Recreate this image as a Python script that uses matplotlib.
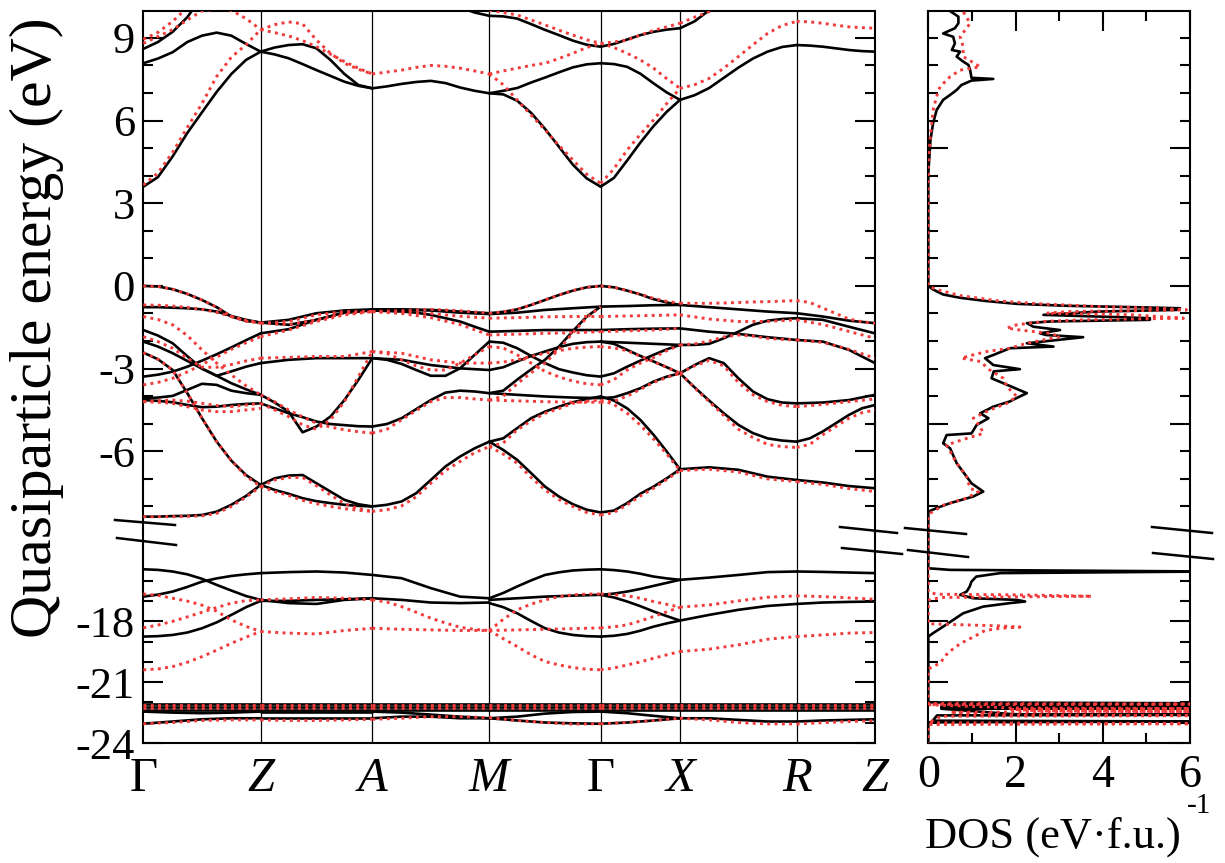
import numpy as np
import matplotlib
matplotlib.use("Agg")
import matplotlib.pyplot as plt
from matplotlib.ticker import FixedLocator
from matplotlib.lines import Line2D

plt.rcParams['font.family'] = ['Liberation Serif', 'DejaVu Serif']
plt.rcParams['axes.unicode_minus'] = False

# ---------------- k-path ----------------
k_labels = ["Γ", "Z", "A", "M", "Γ", "X", "R", "Z"]
k_pos = [0.0, 1.174, 2.290, 3.460, 4.574, 5.367, 6.534, 7.317]

# ---------------- band energies (eV), one list of lines per path segment ----------------
# each line is sampled at equally spaced points along its segment
black_GZ = [
    [3.60, 3.95, 4.70, 5.55, 6.30, 7.04, 7.69, 8.20, 8.50],
    [8.08, 8.25, 8.48, 8.85, 9.08, 9.19, 9.08, 8.78, 8.50],
    [8.60, 8.85, 9.22, 9.75, 10.5, 11.0, 11.0, 11.0, 11.0],
    [0.00, -0.02, -0.12, -0.29, -0.51, -0.77, -1.11, -1.27, -1.33],
    [-0.77, -0.77, -0.79, -0.81, -0.85, -0.93, -1.09, -1.23, -1.33],
    [-1.60, -1.80, -2.08, -2.55, -3.00, -3.26, -3.10, -2.93, -2.80],
    [-2.02, -2.20, -2.44, -2.72, -3.00, -3.26, -3.53, -3.75, -3.95],
    [-2.42, -2.66, -3.05, -3.89, -4.80, -5.65, -6.34, -6.86, -7.22],
    [-3.29, -3.22, -3.11, -2.93, -2.71, -2.48, -2.23, -1.97, -1.72],
    [-4.07, -4.05, -3.99, -3.77, -3.55, -3.59, -3.80, -3.89, -3.95],
    [-4.14, -4.17, -4.22, -4.32, -4.40, -4.38, -4.32, -4.28, -4.26],
    [-8.37, -8.37, -8.35, -8.34, -8.31, -8.19, -7.94, -7.62, -7.22],
    [-15.43, -15.46, -15.54, -15.68, -15.90, -16.20, -16.48, -16.75, -16.94],
    [-16.78, -16.68, -16.53, -16.30, -16.04, -15.88, -15.76, -15.68, -15.62],
    [-18.75, -18.73, -18.67, -18.55, -18.34, -18.05, -17.68, -17.30, -16.99],
    [-22.07, -22.07, -22.07, -22.07, -22.07], [-22.20, -22.20, -22.20, -22.20, -22.20],
    [-22.37, -22.37, -22.37, -22.37, -22.37], [-22.45, -22.50, -22.53, -22.50, -22.45],
    [-23.05, -22.94, -22.83, -22.78, -22.78],
]
black_ZA = [
    [8.50, 8.40, 8.26, 8.05, 7.83, 7.62, 7.41, 7.26, 7.17],
    [8.50, 8.65, 8.74, 8.77, 8.62, 8.20, 7.69, 7.29, 7.17],
    [-1.33, -1.23, -0.99, -0.89, -0.85], [-1.33, -1.41, -1.23, -0.97, -0.87],
    [-1.72, -1.57, -1.23, -0.97, -0.89], [-2.80, -2.68, -2.62, -2.62, -2.62],
    [-3.95, -4.23, -4.56, -5.31, -5.10, -4.74, -4.14, -3.41, -2.62],
    [-4.26, -4.44, -4.62, -4.76, -4.92, -5.01, -5.05, -5.09, -5.10],
    [-7.22, -6.98, -6.88, -6.86, -7.16, -7.46, -7.76, -7.92, -8.00],
    [-7.22, -7.40, -7.54, -7.70, -7.81, -7.88, -7.94, -7.98, -8.00],
    [-15.62, -15.57, -15.54, -15.59, -15.71], [-16.94, -17.10, -17.14, -16.94, -16.86],
    [-16.99, -16.99, -16.94, -16.91, -16.86],
    [-22.07, -22.07, -22.07, -22.07, -22.07], [-22.20, -22.20, -22.20, -22.20, -22.20],
    [-22.37, -22.37, -22.37, -22.37, -22.37], [-22.45, -22.45, -22.45, -22.45, -22.45],
    [-22.78, -22.78, -22.78, -22.78, -22.78],
]
black_AM = [
    [7.17, 7.24, 7.33, 7.40, 7.44, 7.36, 7.20, 7.08, 6.99],
    [11.0, 11.0, 10.9, 10.8, 10.6, 10.35, 10.1, 9.92, 9.80],
    [-0.85, -0.85, -0.87, -0.93, -0.99], [-0.87, -0.87, -0.89, -0.97, -1.02],
    [-0.89, -0.91, -0.93, -0.97, -1.05, -1.17, -1.29, -1.48, -1.66],
    [-2.62, -2.68, -2.87, -2.99, -3.05],
    [-2.62, -2.68, -2.83, -3.05, -3.26, -3.26, -2.99, -2.50, -2.02],
    [-5.10, -5.01, -4.80, -4.47, -4.14, -3.87, -3.80, -3.83, -3.89],
    [-8.00, -7.94, -7.82, -7.52, -7.04, -6.55, -6.19, -5.89, -5.65],
    [-15.71, -15.87, -16.36, -16.78, -16.86], [-16.86, -16.94, -17.07, -17.10, -17.07],
    [-22.07, -22.07, -22.07, -22.07, -22.07], [-22.20, -22.20, -22.20, -22.20, -22.20],
    [-22.37, -22.37, -22.37, -22.37, -22.37], [-22.45, -22.50, -22.60, -22.70, -22.78],
    [-22.78, -22.70, -22.70, -22.78, -22.78],
]
black_MG = [
    [6.99, 6.95, 6.72, 6.28, 5.70, 5.05, 4.40, 3.90, 3.60],
    [6.99, 7.08, 7.18, 7.38, 7.56, 7.75, 7.93, 8.04, 8.08],
    [9.80, 9.78, 9.70, 9.50, 9.29, 9.10, 8.90, 8.75, 8.68],
    [-0.99, -0.94, -0.85, -0.69, -0.51, -0.33, -0.17, -0.05, 0.00],
    [-1.02, -0.97, -0.87, -0.81, -0.75], [-1.66, -1.63, -1.60, -1.60, -1.60],
    [-2.02, -2.06, -2.26, -2.54, -2.80, -3.02, -3.14, -3.24, -3.29],
    [-3.05, -2.95, -2.74, -2.54, -2.38, -2.22, -2.10, -2.04, -2.02],
    [-3.89, -3.80, -3.40, -3.03, -2.68, -2.20, -1.64, -1.11, -0.75],
    [-3.89, -3.95, -4.01, -4.05, -4.07],
    [-5.65, -5.53, -5.16, -4.80, -4.56, -4.38, -4.22, -4.10, -4.01],
    [-5.65, -5.95, -6.31, -6.79, -7.28, -7.64, -7.92, -8.12, -8.22],
    [-16.86, -16.60, -16.28, -15.98, -15.71, -15.58, -15.49, -15.45, -15.43],
    [-16.94, -16.86, -16.78, -16.73, -16.69],
    [-17.10, -17.30, -17.60, -17.98, -18.34, -18.55, -18.67, -18.73, -18.75],
    [-22.07, -22.07, -22.07, -22.07, -22.07], [-22.20, -22.20, -22.20, -22.20, -22.20],
    [-22.37, -22.37, -22.37, -22.37, -22.37], [-22.78, -22.70, -22.55, -22.47, -22.45],
    [-22.78, -22.89, -22.99, -23.03, -23.05],
]
black_GX = [
    [3.60, 3.92, 4.55, 5.20, 5.80, 6.32, 6.75],
    [8.08, 8.05, 7.95, 7.70, 7.35, 7.02, 6.75],
    [8.68, 8.78, 8.94, 9.10, 9.22, 9.30, 9.35],
    [0.00, -0.05, -0.17, -0.31, -0.48, -0.60, -0.69],
    [-0.75, -0.73, -0.70, -0.69], [-1.60, -1.57, -1.55, -1.54], [-2.02, -2.06, -2.10, -2.14],
    [-3.29, -3.17, -2.93, -2.71, -2.50, -2.30, -2.14],
    [-2.02, -2.10, -2.32, -2.54, -2.74, -2.95, -3.17],
    [-4.07, -4.04, -3.89, -3.71, -3.47, -3.29, -3.17],
    [-4.01, -4.16, -4.44, -4.86, -5.40, -6.01, -6.65],
    [-8.22, -8.15, -7.88, -7.54, -7.28, -6.98, -6.65],
    [-15.43, -15.47, -15.54, -15.65, -15.79, -15.88, -15.95],
    [-16.69, -16.63, -16.53, -16.40, -16.25, -16.10, -15.95],
    [-16.69, -16.82, -17.02, -17.25, -17.51, -17.74, -17.96],
    [-18.75, -18.71, -18.62, -18.46, -18.26, -18.10, -17.96],
    [-22.07, -22.07, -22.07, -22.07], [-22.20, -22.20, -22.20, -22.20],
    [-22.37, -22.37, -22.37, -22.37], [-22.45, -22.53, -22.66, -22.78],
    [-23.05, -22.99, -22.89, -22.78],
]
black_XR = [
    [6.75, 6.92, 7.18, 7.55, 7.92, 8.25, 8.50, 8.67, 8.74],
    [9.35, 9.60, 10.0, 10.3, 10.6, 11.0, 11.0, 11.0, 11.0],
    [-0.69, -0.77, -0.85, -0.93, -0.99], [-1.54, -1.66, -1.74, -1.86, -1.96],
    [-2.14, -2.14, -2.10, -1.90, -1.66, -1.41, -1.26, -1.20, -1.17],
    [-3.17, -2.87, -2.62, -2.80, -3.35, -3.83, -4.11, -4.23, -4.26],
    [-3.17, -3.68, -4.16, -4.62, -5.04, -5.34, -5.53, -5.61, -5.65],
    [-6.65, -6.58, -6.67, -6.92, -7.04],
    [-15.95, -15.84, -15.71, -15.57, -15.54], [-17.96, -17.68, -17.43, -17.24, -17.14],
    [-22.07, -22.07, -22.07, -22.07, -22.07], [-22.20, -22.20, -22.20, -22.20, -22.20],
    [-22.37, -22.37, -22.37, -22.37, -22.37], [-22.78, -22.78, -22.86, -22.94, -22.94],
]
black_RZ = [
    [8.74, 8.72, 8.68, 8.62, 8.56, 8.52, 8.50],
    [-0.99, -1.11, -1.26, -1.35], [-1.17, -1.23, -1.48, -1.72], [-1.96, -2.02, -2.32, -2.80],
    [-4.26, -4.23, -4.14, -3.95], [-5.65, -5.53, -5.28, -4.98, -4.68, -4.44, -4.32],
    [-7.04, -7.13, -7.26, -7.34],
    [-15.54, -15.56, -15.59, -15.62], [-17.14, -17.07, -17.04, -17.02],
    [-22.07, -22.07, -22.07, -22.07], [-22.20, -22.20, -22.20, -22.20],
    [-22.37, -22.37, -22.37, -22.37], [-22.94, -22.89, -22.86, -22.83],
]

red_GZ = [
    [3.66, 4.10, 4.85, 5.75, 6.62, 7.60, 8.30, 8.75, 9.30],
    [8.80, 9.05, 9.30, 9.65, 9.98, 10.05, 10.0, 9.70, 9.30],
    [8.95, 9.20, 9.60, 10.1, 10.6, 11.0, 11.0, 11.0, 11.0],
    [0.00, -0.02, -0.12, -0.29, -0.51, -0.77, -1.11, -1.28, -1.35],
    [-0.69, -0.70, -0.73, -0.78, -0.85, -0.96, -1.11, -1.25, -1.35],
    [-1.11, -1.22, -1.41, -1.80, -2.32, -2.80, -3.23, -3.62, -3.95],
    [-1.84, -2.02, -2.26, -2.62, -2.95, -2.95, -2.85, -2.72, -2.62],
    [-2.42, -2.66, -3.05, -3.89, -4.80, -5.65, -6.34, -6.90, -7.28],
    [-3.59, -3.50, -3.35, -3.12, -2.85, -2.58, -2.30, -2.06, -1.84],
    [-4.20, -4.16, -4.14, -4.18, -4.26, -4.34, -4.38, -4.32, -4.26],
    [-4.20, -4.22, -4.26, -4.38, -4.50, -4.56, -4.56, -4.50, -4.44],
    [-8.37, -8.37, -8.37, -8.36, -8.34, -8.25, -8.00, -7.66, -7.28],
    [-16.65, -16.72, -16.86, -17.00, -17.20, -17.50, -17.93, -18.25, -18.50],
    [-18.32, -18.18, -18.00, -17.78, -17.55, -17.32, -17.10, -16.98, -16.94],
    [-20.39, -20.35, -20.23, -20.02, -19.74, -19.42, -19.08, -18.78, -18.50],
    [-22.12, -22.12, -22.12, -22.12, -22.12], [-22.25, -22.25, -22.25, -22.25, -22.25],
    [-23.05, -22.99, -22.89, -22.86, -22.86],
]
red_ZA = [
    [9.30, 9.19, 9.07, 8.90, 8.68, 8.41, 8.14, 7.90, 7.69],
    [9.30, 9.48, 9.58, 9.51, 8.92, 8.44, 8.08, 7.86, 7.69],
    [-1.35, -1.29, -1.05, -0.93, -0.93], [-1.35, -1.41, -1.23, -0.99, -0.93],
    [-1.84, -1.60, -1.29, -1.05, -0.93], [-2.62, -2.59, -2.56, -2.56, -2.38],
    [-4.26, -4.50, -4.74, -5.04, -5.20, -4.86, -4.20, -3.29, -2.38],
    [-3.95, -4.20, -4.50, -4.75, -4.98, -5.12, -5.22, -5.29, -5.34],
    [-7.28, -7.04, -6.95, -6.95, -7.25, -7.58, -7.90, -8.08, -8.18],
    [-7.28, -7.46, -7.60, -7.78, -7.90, -8.00, -8.08, -8.14, -8.18],
    [-16.94, -16.89, -16.82, -16.86, -16.94], [-18.50, -18.58, -18.62, -18.45, -18.34],
    [-22.12, -22.12, -22.12, -22.12, -22.12], [-22.25, -22.25, -22.25, -22.25, -22.25],
    [-22.86, -22.89, -22.89, -22.86, -22.83],
]
red_AM = [
    [7.69, 7.76, 7.83, 7.93, 8.00, 7.97, 7.90, 7.80, 7.69],
    [11.0, 11.0, 10.9, 10.8, 10.6, 10.45, 10.3, 10.15, 10.0],
    [-0.93, -0.90, -0.85, -0.90, -0.99], [-0.93, -0.95, -1.00, -1.10, -1.17],
    [-0.93, -1.00, -1.15, -1.40, -1.78], [-2.38, -2.44, -2.68, -2.80, -2.80],
    [-2.38, -2.45, -2.68, -2.90, -3.05, -3.05, -2.80, -2.50, -2.20],
    [-5.34, -5.20, -4.86, -4.52, -4.20, -4.05, -4.05, -4.10, -4.14],
    [-8.18, -8.12, -7.98, -7.65, -7.16, -6.70, -6.37, -6.05, -5.83],
    [-16.94, -17.05, -17.27, -17.55, -17.84, -18.08, -18.29, -18.40, -18.45],
    [-18.34, -18.39, -18.42, -18.45, -18.45],
    [-22.12, -22.12, -22.12, -22.12, -22.12], [-22.25, -22.25, -22.25, -22.25, -22.25],
    [-22.83, -22.78, -22.70, -22.70, -22.75],
]
red_MG = [
    [7.69, 7.30, 6.75, 6.20, 5.66, 5.10, 4.57, 4.05, 3.72],
    [7.69, 7.80, 7.90, 8.00, 8.08, 8.25, 8.44, 8.65, 8.80],
    [10.0, 9.92, 9.83, 9.65, 9.47, 9.28, 9.10, 8.93, 8.80],
    [-0.99, -0.94, -0.85, -0.69, -0.51, -0.33, -0.17, -0.05, 0.00],
    [-1.17, -1.15, -1.12, -1.11, -1.11], [-1.78, -1.75, -1.72, -1.70, -1.66],
    [-2.20, -2.25, -2.50, -2.80, -3.10, -3.30, -3.45, -3.55, -3.59],
    [-2.80, -2.76, -2.68, -2.56, -2.44, -2.35, -2.26, -2.22, -2.20],
    [-4.14, -4.00, -3.55, -3.15, -2.80, -2.30, -1.70, -1.15, -0.75],
    [-4.14, -4.17, -4.20, -4.22, -4.22],
    [-5.83, -5.70, -5.22, -4.90, -4.62, -4.45, -4.26, -4.18, -4.14],
    [-5.83, -6.10, -6.43, -6.95, -7.40, -7.75, -8.00, -8.22, -8.31],
    [-18.45, -17.90, -17.43, -17.15, -16.94, -16.78, -16.69, -16.65, -16.65],
    [-18.45, -18.42, -18.39, -18.36, -18.32],
    [-18.45, -18.85, -19.24, -19.65, -19.98, -20.15, -20.28, -20.36, -20.39],
    [-22.12, -22.12, -22.12, -22.12, -22.12], [-22.25, -22.25, -22.25, -22.25, -22.25],
    [-22.75, -22.89, -22.99, -23.07, -23.05],
]
red_GX = [
    [3.72, 4.25, 4.93, 5.50, 6.02, 6.62, 7.17],
    [8.80, 8.65, 8.44, 8.20, 7.90, 7.52, 7.17],
    [8.80, 8.85, 8.92, 9.10, 9.27, 9.40, 9.53],
    [0.00, -0.05, -0.17, -0.30, -0.45, -0.56, -0.63],
    [-1.11, -1.09, -1.07, -1.05], [-1.66, -1.63, -1.60, -1.54],
    [-3.59, -3.40, -3.05, -2.80, -2.60, -2.35, -2.14],
    [-2.20, -2.25, -2.35, -2.55, -2.75, -2.95, -3.17],
    [-4.22, -4.18, -4.00, -3.75, -3.50, -3.32, -3.17],
    [-4.14, -4.30, -4.62, -5.05, -5.55, -6.10, -6.70],
    [-8.31, -8.22, -7.94, -7.62, -7.34, -7.02, -6.70],
    [-16.65, -16.68, -16.74, -16.86, -17.02, -17.16, -17.30],
    [-18.32, -18.27, -18.17, -17.98, -17.76, -17.53, -17.30],
    [-20.39, -20.30, -20.15, -20.00, -19.82, -19.65, -19.49],
    [-22.12, -22.12, -22.12, -22.12], [-22.25, -22.25, -22.25, -22.25],
    [-23.05, -22.99, -22.89, -22.78],
]
red_XR = [
    [7.17, 7.30, 7.53, 7.90, 8.32, 8.75, 9.16, 9.45, 9.60],
    [9.53, 9.75, 9.95, 10.2, 10.5, 11.0, 11.0, 11.0, 11.0],
    [-0.63, -0.63, -0.63, -0.62, -0.60, -0.58, -0.57, -0.55, -0.53],
    [-1.05, -1.20, -1.29, -1.29, -1.23],
    [-2.14, -2.10, -2.00, -1.85, -1.78, -1.82, -1.90, -1.94, -1.96],
    [-3.17, -2.90, -2.70, -2.90, -3.50, -3.95, -4.20, -4.33, -4.38],
    [-3.17, -3.70, -4.20, -4.70, -5.20, -5.50, -5.75, -5.83, -5.86],
    [-6.70, -6.65, -6.75, -7.00, -7.10],
    [-17.30, -17.19, -16.99, -16.81, -16.74], [-19.49, -19.37, -19.16, -18.88, -18.75],
    [-22.12, -22.12, -22.12, -22.12, -22.12], [-22.25, -22.25, -22.25, -22.25, -22.25],
    [-22.78, -22.86, -22.99, -23.06, -23.06],
]
red_RZ = [
    [9.60, 9.58, 9.53, 9.46, 9.40, 9.37, 9.35],
    [-0.53, -0.60, -0.80, -1.00, -1.20, -1.30, -1.35],
    [-1.23, -1.40, -1.65, -1.90], [-1.96, -2.05, -2.30, -2.62],
    [-4.38, -4.30, -4.20, -4.10], [-5.86, -5.75, -5.40, -5.10, -4.80, -4.60, -4.50],
    [-7.10, -7.20, -7.35, -7.46],
    [-16.74, -16.78, -16.84, -16.91], [-18.75, -18.67, -18.58, -18.55],
    [-22.12, -22.12, -22.12, -22.12], [-22.25, -22.25, -22.25, -22.25],
    [-23.06, -23.00, -22.94, -22.90],
]

# ---------------- DOS: (energy eV, DOS per eV f.u.) ----------------
dos_black = [
    (10.2, 0.55), (9.97, 0.50), (9.77, 0.69), (9.53, 0.69), (9.35, 0.61), (9.16, 0.34), (9.04, 0.57),
    (8.80, 0.61), (8.56, 0.54), (8.50, 0.73), (8.32, 0.65), (8.14, 0.80), (8.02, 0.92), (7.83, 0.96),
    (7.55, 0.99), (7.51, 1.49), (7.45, 0.99), (7.29, 0.76), (7.11, 0.65), (6.93, 0.50), (6.75, 0.34),
    (6.38, 0.19), (5.90, 0.11), (5.30, 0.05), (4.57, 0.02), (4.09, 0.0), (0.00, 0.0),
    (-0.13, 0.11), (-0.31, 0.34), (-0.43, 0.73), (-0.55, 1.34), (-0.65, 2.03), (-0.72, 3.17),
    (-0.77, 4.70), (-0.81, 5.77), (-0.87, 5.70), (-0.93, 3.90), (-1.05, 2.64), (-1.11, 3.90),
    (-1.17, 5.08), (-1.23, 5.08), (-1.29, 2.79), (-1.35, 2.26), (-1.48, 2.41), (-1.60, 3.02),
    (-1.72, 2.56), (-1.78, 2.70), (-1.86, 3.55), (-2.08, 2.26), (-2.20, 2.87), (-2.26, 1.87),
    (-2.50, 1.50), (-2.62, 1.30), (-2.87, 1.49), (-3.02, 2.10), (-3.10, 1.50), (-3.35, 1.45),
    (-3.53, 1.72), (-3.71, 1.99), (-3.89, 2.26), (-4.01, 2.10), (-4.19, 1.87), (-4.38, 1.49),
    (-4.62, 1.19), (-4.80, 1.38), (-5.04, 1.11), (-5.35, 0.99), (-5.41, 0.42), (-5.71, 0.34),
    (-5.89, 0.50), (-6.43, 0.65), (-6.92, 0.88), (-7.16, 0.99), (-7.46, 1.26), (-7.64, 1.03),
    (-7.88, 0.50), (-8.06, 0.19), (-8.19, 0.0),
    (-15.38, 0.0), (-15.46, 0.50), (-15.54, 6.5), (-15.62, 1.65), (-15.79, 1.10), (-16.04, 0.99),
    (-16.28, 0.95), (-16.53, 0.88), (-16.69, 0.73), (-16.86, 1.03), (-16.94, 2.03), (-17.02, 2.22),
    (-17.10, 1.87), (-17.27, 1.26), (-17.60, 0.80), (-17.93, 0.57), (-18.26, 0.34), (-18.58, 0.11),
    (-18.75, 0.0),
    (-22.00, 0.0), (-22.04, 6.5), (-22.08, 0.3), (-22.13, 0.3), (-22.17, 6.5), (-22.21, 0.3),
    (-22.26, 0.3), (-22.28, 6.5), (-22.31, 0.3), (-22.58, 1.95), (-22.61, 6.5), (-22.64, 0.2),
    (-22.90, 0.1), (-22.94, 6.5), (-22.98, 0.0), (-24.0, 0.0),
]
dos_red = [
    (10.2, 0.78), (9.95, 0.80), (9.53, 0.96), (9.04, 0.73), (8.68, 0.80), (8.32, 0.80), (7.95, 1.19),
    (7.83, 0.73), (7.59, 0.50), (7.23, 0.27), (6.87, 0.19), (6.38, 0.11), (5.90, 0.08), (5.30, 0.04),
    (4.33, 0.0), (0.00, 0.0),
    (-0.13, 0.19), (-0.35, 0.73), (-0.55, 1.64), (-0.65, 2.56), (-0.75, 3.94), (-0.81, 5.31),
    (-0.87, 5.92), (-0.93, 3.20), (-0.99, 2.71), (-1.05, 4.70), (-1.17, 5.85), (-1.23, 3.55),
    (-1.29, 2.64), (-1.41, 2.03), (-1.53, 1.80), (-1.60, 2.10), (-1.72, 2.79), (-1.84, 3.02),
    (-2.08, 2.26), (-2.26, 1.87), (-2.38, 1.34), (-2.50, 1.03), (-2.62, 0.76), (-2.74, 1.19),
    (-3.05, 1.41), (-3.35, 1.72), (-3.65, 1.80), (-4.01, 2.03), (-4.26, 1.80), (-4.50, 1.41),
    (-4.80, 1.03), (-5.10, 1.19), (-5.35, 1.26), (-5.53, 0.88), (-5.77, 0.42), (-6.00, 0.50),
    (-6.43, 0.65), (-6.92, 0.88), (-7.35, 0.96), (-7.46, 1.15), (-7.70, 0.88), (-7.95, 0.35),
    (-8.25, 0.04), (-8.40, 0.0),
    (-16.55, 0.0), (-16.66, 0.19), (-16.69, 2.03), (-16.76, 3.75), (-16.82, 0.3), (-16.95, 0.0),
    (-18.12, 0.0), (-18.18, 0.95), (-18.22, 1.60), (-18.28, 2.10), (-18.34, 1.65), (-18.45, 1.30),
    (-18.75, 1.05), (-19.10, 0.73), (-19.55, 0.45), (-20.05, 0.27), (-20.35, 0.0),
    (-22.05, 0.0), (-22.08, 6.5), (-22.11, 0.0), (-22.27, 1.9), (-22.30, 6.5), (-22.34, 1.9),
    (-22.42, 2.6), (-22.45, 6.5), (-22.48, 0.5), (-22.62, 1.8), (-22.65, 6.5), (-22.68, 0.3),
    (-23.00, 0.0), (-23.05, 6.5), (-23.09, 0.0), (-24.0, 0.0),
]

segments_black = [black_GZ, black_ZA, black_AM, black_MG, black_GX, black_XR, black_RZ]
segments_red = [red_GZ, red_ZA, red_AM, red_MG, red_GX, red_XR, red_RZ]

# ---------------- figure layout ----------------
W, H = 1225, 863
fig = plt.figure(figsize=(W / 100, H / 100), dpi=100)


def box(x0, y0, x1, y1):
    return [x0 / W, 1 - y1 / H, (x1 - x0) / W, (y1 - y0) / H]


Y_TOP, Y_JOIN, Y_BOT = 11, 534, 743
ax_bu = fig.add_axes(box(143.3, Y_TOP, 875, Y_JOIN))
ax_bl = fig.add_axes(box(143.3, Y_JOIN, 875, Y_BOT))
ax_du = fig.add_axes(box(928.3, Y_TOP, 1190, Y_JOIN))
ax_dl = fig.add_axes(box(928.3, Y_JOIN, 1190, Y_BOT))

upper_lim = (-9.0, 9.975)
lower_lim = (-24.0, -13.69)

BLACK_KW = dict(color='black', lw=1.9, solid_capstyle='round', solid_joinstyle='round', zorder=3)
RED_KW = dict(color='#f23a3a', lw=2.1, linestyle=(0, (1.0, 1.5)), zorder=4)

for ax in (ax_bu, ax_bl):
    for segs, kw in ((segments_black, BLACK_KW), (segments_red, RED_KW)):
        for s, lines in enumerate(segs):
            for line in lines:
                ks = np.linspace(k_pos[s], k_pos[s + 1], len(line))
                ax.plot(ks, line, **kw)
    for k in k_pos[1:-1]:
        ax.axvline(k, color='black', lw=0.9, zorder=1)
    ax.set_xlim(k_pos[0], k_pos[-1])

for ax in (ax_du, ax_dl):
    ax.plot([p[1] for p in dos_black], [p[0] for p in dos_black], **BLACK_KW)
    ax.plot([p[1] for p in dos_red], [p[0] for p in dos_red], **RED_KW)
    ax.set_xlim(0, 6)

for ax in (ax_bu, ax_du):
    ax.set_ylim(*upper_lim)
    ax.spines['bottom'].set_visible(False)
for ax in (ax_bl, ax_dl):
    ax.set_ylim(*lower_lim)
    ax.spines['top'].set_visible(False)

for ax in (ax_bu, ax_bl, ax_du, ax_dl):
    for sp in ax.spines.values():
        sp.set_linewidth(1.5)
    ax.tick_params(which='both', direction='in', width=1.5, left=True, right=True)
    ax.tick_params(which='major', length=14.5)
    ax.tick_params(which='minor', length=7.5)

ax_bu.yaxis.set_major_locator(FixedLocator([-6, -3, 0, 3, 6, 9]))
ax_bu.yaxis.set_minor_locator(FixedLocator([-8, -7, -5, -4, -2, -1, 1, 2, 4, 5, 7, 8]))
ax_bl.yaxis.set_major_locator(FixedLocator([-24, -21, -18]))
ax_bl.yaxis.set_minor_locator(FixedLocator([-23, -22, -20, -19, -17, -16]))
for ax in (ax_bu, ax_bl):
    ax.tick_params(axis='y', labelsize=32, pad=6)
    ax.tick_params(axis='x', which='both', top=False, bottom=False)
ax_bu.set_xticks([])
ax_bl.set_xticks(k_pos)
ax_bl.set_xticklabels(k_labels)
ax_bl.tick_params(axis='x', labelsize=35, pad=10, length=0)
for lab in ax_bl.get_xticklabels():
    if lab.get_text() != "Γ":
        lab.set_fontstyle('italic')

ax_du.yaxis.set_major_locator(FixedLocator([-5, 0, 5]))
ax_du.yaxis.set_minor_locator(FixedLocator([-8, -7, -6, -4, -3, -2, -1, 1, 2, 3, 4, 6, 7, 8, 9]))
ax_dl.yaxis.set_major_locator(FixedLocator([-24, -21, -18]))
ax_dl.yaxis.set_minor_locator(FixedLocator([-23, -22, -20, -19, -17, -16]))
for ax in (ax_du, ax_dl):
    ax.xaxis.set_major_locator(FixedLocator([0, 2, 4, 6]))
    ax.xaxis.set_minor_locator(FixedLocator([1, 3, 5]))
    ax.tick_params(axis='y', which='both', labelleft=False)
ax_du.tick_params(axis='x', which='both', top=True, bottom=False, labelbottom=False)
ax_dl.tick_params(axis='x', which='both', top=False, bottom=True, labelbottom=True,
                  labelsize=33, pad=8)

break_marks = [
    ((115, 520), (175, 525)), ((117, 538), (176, 545)),
    ((840, 527), (897, 533)), ((842, 548), (902, 554)),
    ((905, 528), (966, 534)), ((908, 550), (968, 557)),
    ((1152, 527), (1212, 533)), ((1153, 553), (1213, 559)),
]
for (xa, ya), (xb, yb) in break_marks:
    fig.add_artist(Line2D([xa / W, xb / W], [1 - ya / H, 1 - yb / H],
                          transform=fig.transFigure, color='black', lw=1.8))

fig.text(37 / W, 1 - 328 / H, "Quasiparticle energy (eV)", rotation=90,
         ha='center', va='center', fontsize=43)
fig.text(1053 / W, 1 - 837 / H, "DOS (eV·f.u.)", ha='center', va='center', fontsize=32)
fig.text(1199 / W, 1 - 806 / H, "-1", ha='center', va='center', fontsize=21)

fig.savefig("out.png", dpi=100)
